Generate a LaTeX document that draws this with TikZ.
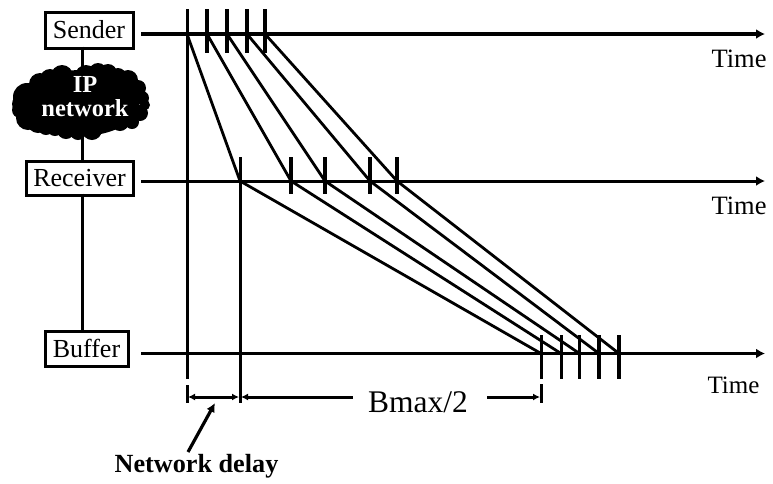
\documentclass[tikz,border=0pt]{standalone}
\usepackage{fontspec}
\setmainfont{Liberation Serif}
\usetikzlibrary{arrows.meta}
\tikzset{
  x=1pt,y=-1pt,
  boxnode/.style={draw=black,line width=3pt,fill=white,inner sep=0pt,font=\fontsize{26}{26}\selectfont,anchor=north west},
  timeaxis/.style={line width=3.2pt,-{Latex[length=9pt,width=10pt]}},
  axisthin/.style={line width=3pt,-{Latex[length=9pt,width=10pt]}},
  tick/.style={line width=3.2pt},
  diag/.style={line width=2.8pt},
  vline/.style={line width=3pt},
  link/.style={line width=3pt},
  timelabel/.style={font=\fontsize{26.5}{26.5}\selectfont,inner sep=0pt},
  dim/.style={line width=3pt,{Latex[length=7pt,width=7pt]}-{Latex[length=7pt,width=7pt]}},
}
\begin{document}
\begin{tikzpicture}
\useasboundingbox[fill=white] (0,0) rectangle (773,483);
% boxes
\node[boxnode,minimum width=88pt,minimum height=36pt] (S) at (43.5,10.5) {Sender};
\node[boxnode,minimum width=107pt,minimum height=34pt] (R) at (24.5,159.5) {Receiver};
\node[boxnode,minimum width=83pt,minimum height=35pt] (B) at (43.5,329.5) {Buffer};
\coordinate (rt) at (82,159.5);
\coordinate (rb) at (82,193.5);
\coordinate (st) at (82,46.5);
\coordinate (bt) at (82,329.5);
\draw[link] (st) -- (rt);
\draw[link] (rb) -- (bt);
% cloud
\fill[black] (81,103) ellipse (58pt and 33pt);
\foreach \cx/\cy/\r in {27/97/14,22/104/10,20/110/8,28/118/12,38/122/11,46/127/8,40/84/11,50/79/10,62/76/11,74/80/9,86/76/11,98/72/9,108/73/9,118/76/8,128/80/10,138/88/8,142/98/7,145/105/5,140/113/8,132/122/7,120/122/9,105/124/8,92/130/10,78/132/8,66/130/9,55/128/8}
  \fill[black] (\cx,\cy) circle (\r pt);
\node[font=\fontsize{24.5}{24.5}\selectfont\bfseries,text=white,align=center,inner sep=0pt] (cloud) at (85,96.5) {IP\\[-1pt]network};
% axes
\coordinate (sa) at (141,34); \coordinate (se) at (765,34);
\coordinate (ra) at (141,181); \coordinate (re) at (765,181);
\coordinate (ba) at (141,353.5); \coordinate (be) at (765,353.5);
\draw[timeaxis] (sa) -- (se);
\draw[axisthin] (ra) -- (re);
\draw[timeaxis] (ba) -- (be);
% long verticals
\coordinate (v1t) at (187,9); \coordinate (v1b) at (187,379);
\coordinate (v2t) at (240,157); \coordinate (v2b) at (240,403);
\coordinate (v1c) at (187,385); \coordinate (v1d) at (187,403);
\coordinate (v3c) at (541,384); \coordinate (v3d) at (541,403);
\draw[vline] (v1t) -- (v1b);
\draw[vline] (v1c) -- (v1d);
\draw[vline] (v2t) -- (v2b);
\draw[vline] (v3c) -- (v3d);
% ticks
\foreach \x in {207,227,247,265} \draw[tick] (\x,9) -- (\x,53);
\foreach \x in {291,325,370,397} \draw[tick] (\x,157) -- (\x,194);
\draw[vline] (541,335) -- (541,379);
\draw[vline] (561,335) -- (561,379);
\foreach \x in {579.5,599,619} \draw[tick] (\x,335) -- (\x,379);
% diagonals
\foreach \a/\b/\c in {187/240/541,207/291/561,227/325/579.5,247/370/599,265/397/619}{
  \draw[diag,line join=round] (\a,34) -- (\b,181) -- (\c,353.5);
}
% dimension arrows
\coordinate (d1) at (188,397); \coordinate (d2) at (239,397);
\coordinate (d3) at (241,397); \coordinate (d4) at (353,397);
\coordinate (d5) at (487,397); \coordinate (d6) at (540,397);
\draw[dim] (d1) -- (d2);
\draw[line width=3pt,{Latex[length=7pt,width=7pt]}-] (d3) -- (d4);
\draw[line width=3pt,-{Latex[length=7pt,width=7pt]}] (d5) -- (d6);
\node[font=\fontsize{31.5}{31.5}\selectfont,inner sep=0pt] (bm) at (418,402) {Bmax/2};
% labels
\node[timelabel] (t1) at (739,59) {Time};
\node[timelabel] (t2) at (739,206) {Time};
\node[timelabel,font=\fontsize{25}{25}\selectfont] (t3) at (733.5,385.5) {Time};
\node[font=\fontsize{26.2}{26.2}\selectfont\bfseries,inner sep=0pt] (nd) at (196.5,466) {Network delay};
\coordinate (na) at (188,452); \coordinate (nb) at (215,403);
\draw[line width=3.2pt,-{Latex[length=9pt,width=9pt]}] (na) -- (nb);
\end{tikzpicture}
\end{document}
